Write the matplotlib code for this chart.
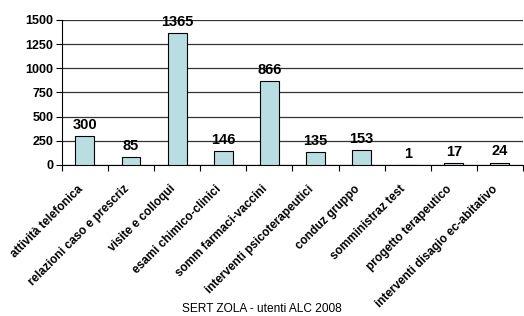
import matplotlib
matplotlib.use("Agg")
import matplotlib.pyplot as plt
import matplotlib.transforms as mtransforms
import numpy as np

categories = ["attività telefonica", "relazioni caso e prescriz", "visite e colloqui",
              "esami chimico-clinici", "somm farmaci-vaccini", "interventi psicoterapeutici",
              "conduz gruppo", "somministraz test", "progetto terapeutico",
              "interventi disagio ec-abitativo"]
values = [300, 85, 1365, 146, 866, 135, 153, 1, 17, 24]
yticks = [0, 250, 500, 750, 1000, 1250, 1500]
title = "SERT ZOLA - utenti ALC 2008"

plt.rcParams['font.family'] = ['Liberation Sans', 'DejaVu Sans']

fig = plt.figure(figsize=(5.24, 3.16), dpi=100)
ax = fig.add_axes([0.118, 0.478, 0.880, 0.459])

x = np.arange(len(categories))
ax.bar(x, values, width=0.41, color="#B8DEE2", edgecolor="black", linewidth=0.8, zorder=3)
for xi, v in zip(x, values):
    ax.annotate(str(v), (xi, v), xytext=(0, 3), textcoords="offset points",
                ha="center", va="bottom", fontsize=10.5, fontweight="bold", zorder=4)

ax.set_xlim(-0.5, len(categories) - 0.5)
ax.set_ylim(0, 1500)
ax.set_yticks(yticks)
ax.set_yticklabels([str(t) for t in yticks], fontsize=9, fontweight="bold")
ax.yaxis.grid(True, color="#333333", linewidth=0.9, zorder=0)
ax.set_axisbelow(True)

ax.set_xticks(np.arange(len(categories) + 1) - 0.5, minor=True)
ax.tick_params(axis="x", which="major", length=0, pad=13)
ax.tick_params(axis="x", which="minor", length=4, width=0.8, direction="out", color="black")
ax.tick_params(axis="y", length=4, width=0.8, direction="out", pad=2)

ax.set_xticks(x)
ax.set_xticklabels(categories, rotation=45, ha="right", va="top", rotation_mode="anchor",
                   fontsize=8.5, fontweight="bold")
offset = mtransforms.ScaledTranslation(-8 / 100, 0, fig.dpi_scale_trans)
for lab in ax.get_xticklabels():
    lab.set_transform(lab.get_transform() + offset)

for s in ["top", "right"]:
    ax.spines[s].set_visible(False)
ax.spines["left"].set_linewidth(0.8)
ax.spines["bottom"].set_linewidth(0.8)

fig.text(0.5, 0.04, title, ha="center", va="top", fontsize=8.6)

fig.savefig("out.png", dpi=100)
